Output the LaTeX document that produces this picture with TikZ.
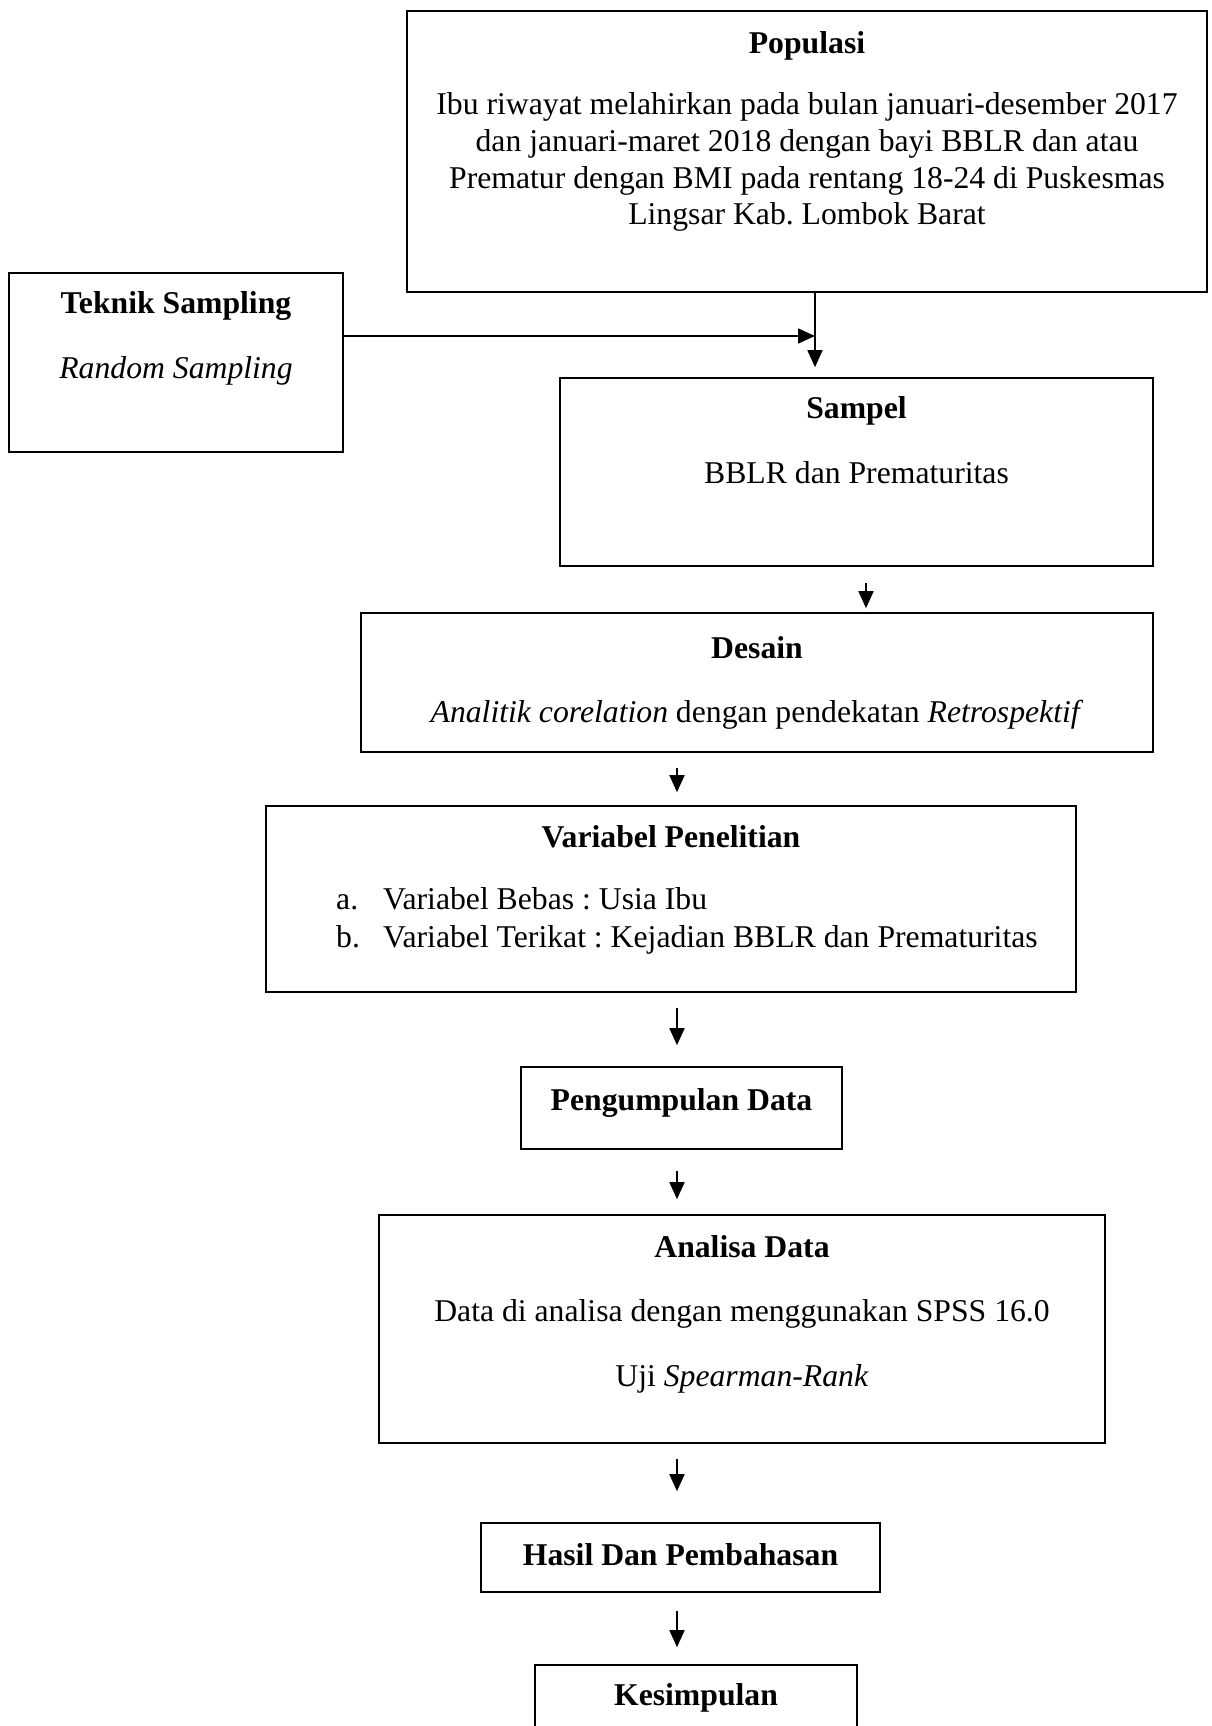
\documentclass[tikz,border=0pt]{standalone}
\usepackage{fontspec}
\setmainfont{Liberation Serif}
\usetikzlibrary{arrows.meta}
\frenchspacing
\begin{document}
\begin{tikzpicture}[x=1pt,y=-1pt,
  box/.style={draw,line width=1.6pt,inner sep=0pt},
  txt/.style={anchor=base,inner sep=0pt,font=\fontsize{31.7}{36.5}\selectfont},
  ttl/.style={txt,font=\fontsize{31.7}{36.5}\selectfont\bfseries},
  arr/.style={line width=1.6pt,-{Triangle[length=17pt,width=15pt]}}]
\useasboundingbox (0,0) rectangle (1211,1726);
\fill[white] (0,0) rectangle (1211,1726);
\clip (0,0) rectangle (1211,1726);
% boxes
\node[box,minimum width=800pt,minimum height=281pt] (pop) at (807,151.5) {};
\node[box,minimum width=334pt,minimum height=179pt] (tek) at (176,362.5) {};
\node[box,minimum width=593pt,minimum height=188pt] (samp) at (856.5,472) {};
\node[box,minimum width=792pt,minimum height=139pt] (des) at (757,682.5) {};
\node[box,minimum width=810pt,minimum height=186pt] (var) at (671,899) {};
\node[box,minimum width=321pt,minimum height=82pt] (peng) at (681.5,1108) {};
\node[box,minimum width=726pt,minimum height=228pt] (ana) at (742,1329) {};
\node[box,minimum width=399pt,minimum height=69pt] (has) at (680.5,1557.5) {};
\node[box,minimum width=322pt,minimum height=95pt] (kes) at (696,1712.5) {};
% texts
\node[ttl] (popT) at (807,54) {Populasi};
\node[txt] (popL1) at (807,115) {Ibu riwayat melahirkan pada bulan januari-desember 2017};
\node[txt] (popL2) at (807,151) {dan januari-maret 2018 dengan bayi BBLR dan atau};
\node[txt] (popL3) at (807,188) {Prematur dengan BMI pada rentang 18-24 di Puskesmas};
\node[txt] (popL4) at (807,224) {Lingsar Kab. Lombok Barat};
\node[ttl] (tekT) at (176,313) {Teknik Sampling};
\node[txt] (tekL) at (176,378) {\itshape Random Sampling};
\node[ttl] (sampT) at (856.5,418) {Sampel};
\node[txt] (sampL) at (856.5,483) {BBLR dan Prematuritas};
\node[ttl] (desT) at (757,658) {Desain};
\node[txt] (desL) at (757,722) {\textit{Analitik corelation} dengan pendekatan \textit{Retrospektif}};
\node[ttl] (varT) at (671,847) {Variabel Penelitian};
\node[txt,anchor=base west] (varA) at (336,909) {\makebox[47pt][l]{a.}Variabel Bebas : Usia Ibu};
\node[txt,anchor=base west] (varB) at (336,947) {\makebox[47pt][l]{b.}Variabel Terikat : Kejadian BBLR dan Prematuritas};
\node[ttl] (pengT) at (681.5,1110) {Pengumpulan Data};
\node[ttl] (anaT) at (742,1257) {Analisa Data};
\node[txt] (anaL1) at (742,1321) {Data di analisa dengan menggunakan SPSS 16.0};
\node[txt] (anaL2) at (742,1386) {Uji \textit{Spearman-Rank}};
\node[ttl] (hasT) at (680.5,1565) {Hasil Dan Pembahasan};
\node[ttl] (kesT) at (696,1705) {Kesimpulan};
% connectors
\coordinate (j) at (815,336);
\coordinate (c1) at (866,0);
\coordinate (c2) at (677,0);
\draw[arr] (tek.east |- j) -- (j);
\draw[arr,shorten >=10pt] (pop.south -| j) -- (samp.north -| j);
\draw[arr,shorten <=16pt,shorten >=4pt] (samp.south -| c1) -- (des.north -| c1);
\draw[arr,shorten <=15pt,shorten >=13pt] (des.south -| c2) -- (var.north -| c2);
\draw[arr,shorten <=15pt,shorten >=21pt] (var.south -| c2) -- (peng.north -| c2);
\draw[arr,shorten <=21pt,shorten >=15pt] (peng.south -| c2) -- (ana.north -| c2);
\draw[arr,shorten <=15pt,shorten >=31pt] (ana.south -| c2) -- (has.north -| c2);
\draw[arr,shorten <=18pt,shorten >=17pt] (has.south -| c2) -- (kes.north -| c2);
\end{tikzpicture}
\end{document}
